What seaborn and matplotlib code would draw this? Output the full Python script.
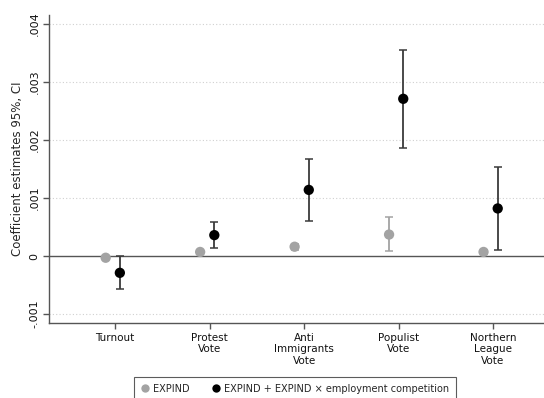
import matplotlib
matplotlib.use("Agg")
import matplotlib.pyplot as plt
import seaborn as sns
import pandas as pd
import numpy as np
from matplotlib.lines import Line2D

categories = ["Turnout", "Protest\nVote", "Anti\nImmigrants\nVote", "Populist\nVote", "Northern\nLeague\nVote"]
expind_est = [-0.00003, 0.00007, 0.00016, 0.00037, 0.00007]
expind_lo = [-0.00006, 0.00004, 0.00011, 0.00008, 0.00004]
expind_hi = [0.00000, 0.00010, 0.00021, 0.00067, 0.00010]
inter_est = [-0.00029, 0.00036, 0.00114, 0.00271, 0.00082]
inter_lo = [-0.00057, 0.00014, 0.00061, 0.00186, 0.00011]
inter_hi = [0.00000, 0.00059, 0.00167, 0.00356, 0.00153]
series_names = ["EXPIND", "EXPIND + EXPIND x employment competition"]
yticks = [-0.001, 0, 0.001, 0.002, 0.003, 0.004]
ytick_labels = ["-.001", "0", ".001", ".002", ".003", ".004"]

sns.set_theme(style="white")
plt.rcParams['font.family'] = ['DejaVu Sans']

fig = plt.figure(figsize=(5.44, 3.98), dpi=100)
ax = fig.add_axes([49/544, 1-323/398, 1-49/544, (323-15)/398])

offsets = [-0.1, 0.05]
colors = ["#a3a3a3", "#000000"]
ecolors = ["#a3a3a3", "#3a3a3a"]
rows = []
for s, (est, lo, hi) in enumerate([(expind_est, expind_lo, expind_hi), (inter_est, inter_lo, inter_hi)]):
    for i in range(len(categories)):
        rows.append(dict(series=series_names[s], x=i + offsets[s], est=est[i], lo=lo[i], hi=hi[i]))
df = pd.DataFrame(rows)

# gridlines and zero line
for t in yticks:
    if t == 0:
        ax.axhline(0, color="#555555", lw=1.0, zorder=1)
    else:
        ax.axhline(t, color="#d0d0d0", lw=0.8, ls=(0, (1, 2)), zorder=0)

for s, name in enumerate(series_names):
    d = df[df.series == name]
    ax.errorbar(d.x, d.est, yerr=[d.est - d.lo, d.hi - d.est], fmt="none",
                ecolor=ecolors[s], elinewidth=1.3, capsize=2.6, capthick=1.1, zorder=2)

sns.scatterplot(data=df, x="x", y="est", hue="series", palette=dict(zip(series_names, colors)),
                s=55, edgecolor="none", legend=False, ax=ax, zorder=3)

ax.set_xlim(-0.7, 4.54)
ax.set_ylim(-0.001155, 0.004155)
ax.set_xticks(range(len(categories)))
ax.set_xticklabels(categories, fontsize=7.5, linespacing=1.2)
ax.set_yticks(yticks)
ax.set_yticklabels(ytick_labels, fontsize=8, rotation=90, va="center")
ax.set_xlabel("")
ax.set_ylabel("Coefficient estimates 95%, CI", fontsize=8.5, labelpad=4)

for sp in ["top", "right"]:
    ax.spines[sp].set_visible(False)
for sp in ["left", "bottom"]:
    ax.spines[sp].set_color("#555555")
    ax.spines[sp].set_linewidth(1.0)
ax.tick_params(axis="both", which="both", direction="out", length=4, width=1, color="#555555",
               left=True, bottom=True, pad=3, labelcolor="#111111")

handles = [Line2D([], [], marker="o", ls="none", color=colors[0], markersize=6, markeredgewidth=0),
           Line2D([], [], marker="o", ls="none", color=colors[1], markersize=6, markeredgewidth=0)]
labels = ["EXPIND", "EXPIND + EXPIND \u00d7 employment competition"]
leg = fig.legend(handles, labels, loc="upper left", bbox_to_anchor=(134/544, 1-377/398), ncol=2,
                 fontsize=7, frameon=True, fancybox=False, borderpad=0.7, handletextpad=0.4,
                 columnspacing=2.2, handlelength=0.9, borderaxespad=0)
leg.get_frame().set_edgecolor("#333333")
leg.get_frame().set_linewidth(0.8)

fig.savefig("out.png", dpi=100)
